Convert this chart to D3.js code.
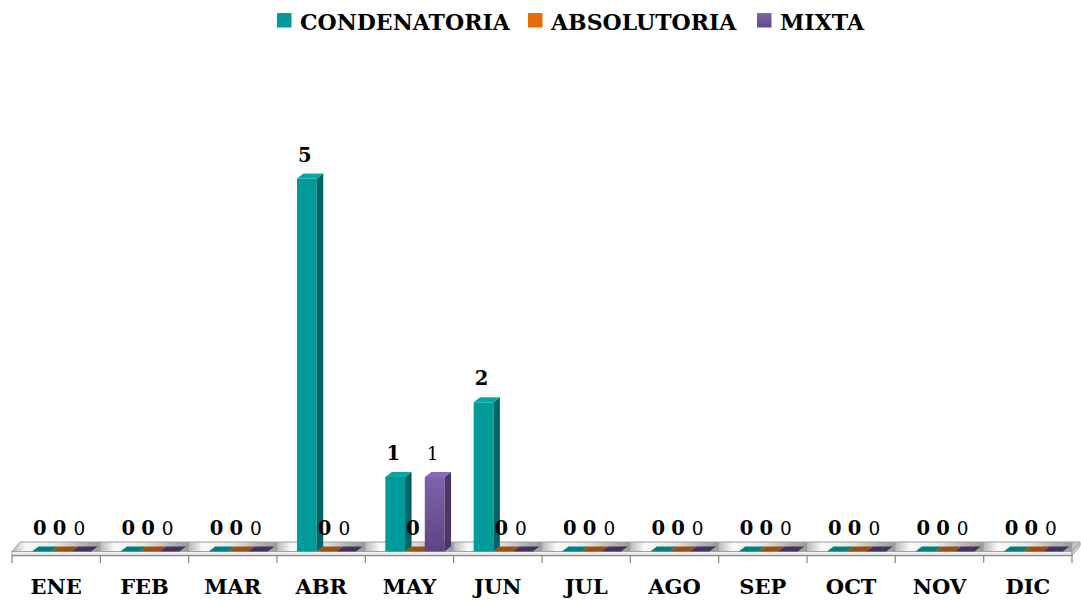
<!DOCTYPE html>
<html><head><meta charset="utf-8">
<script src="https://cdn.jsdelivr.net/npm/d3@7"></script>
<style>
html,body{margin:0;padding:0;background:#fff;}
svg{display:block;}
</style></head>
<body>
<script>
const months = ["ENE","FEB","MAR","ABR","MAY","JUN","JUL","AGO","SEP","OCT","NOV","DIC"];
const seriesNames = ["CONDENATORIA","ABSOLUTORIA","MIXTA"];
const condenatoria = [0,0,0,5,1,2,0,0,0,0,0,0];
const absolutoria  = [0,0,0,0,0,0,0,0,0,0,0,0];
const mixta        = [0,0,0,0,1,0,0,0,0,0,0,0];
const seriesValues = [condenatoria, absolutoria, mixta];

const W = 1081, H = 601;
const FONT = "'DejaVu Serif', 'Liberation Serif', serif";
const colors = [
  {front:"#009a9a", side:"#006464", top:"#00a8a8", flat:"#00807e"},
  {front:"#e46c0a", side:"#a04a05", top:"#f07a1a", flat:"#9a5010"},
  {front:"#7c5ca6", side:"#4b3768", top:"#8a6bb4", flat:"#45325f"}
];

const svg = d3.select("body").append("svg").attr("width", W).attr("height", H);
const defs = svg.append("defs");

const pg = defs.append("linearGradient").attr("id","purpleGrad").attr("x1",0).attr("y1",0).attr("x2",0).attr("y2",1);
pg.append("stop").attr("offset","0").attr("stop-color","#8062aa");
pg.append("stop").attr("offset","1").attr("stop-color","#5e4584");
const lg = defs.append("linearGradient").attr("id","legPurple").attr("x1",0).attr("y1",0).attr("x2",0).attr("y2",1);
lg.append("stop").attr("offset","0").attr("stop-color","#8064a8");
lg.append("stop").attr("offset","1").attr("stop-color","#64488c");

const x0 = d3.scaleBand().domain(months).range([12, 1072]).paddingInner(0).paddingOuter(0);
const bw = x0.bandwidth();
const x1 = d3.scaleBand().domain(seriesNames).range([bw*0.2265, bw*0.2265 + bw*0.67]).padding(0);
const y = d3.scaleLinear().domain([0, 7]).range([551.5, 551.5 - 7*74.6]);

const dx = 6.5, dy = 5;
const fdx = 8, fdy = 9.5;
const y0 = y(0);

const pat = defs.append("pattern").attr("id","floorPat").attr("patternUnits","userSpaceOnUse")
  .attr("x", x0(months[0])).attr("y", 0).attr("width", bw).attr("height", H);
const fg = defs.append("linearGradient").attr("id","floorGrad").attr("x1",0).attr("y1",0).attr("x2",1).attr("y2",0);
[[0,"#b8b8b8"],[0.16,"#fafafa"],[0.5,"#e6e6e6"],[0.8,"#b4b4b4"],[1,"#9a9a9a"]].forEach(([o,c])=>fg.append("stop").attr("offset",o).attr("stop-color",c));
pat.append("rect").attr("x",0).attr("y",0).attr("width",bw).attr("height",H).attr("fill","url(#floorGrad)");

const fL = x0.range()[0], fR = x0.range()[1];
svg.append("path")
  .attr("d", `M${fL},${y0} L${fL+fdx},${y0-fdy} L${fR+fdx},${y0-fdy} L${fR},${y0} Z`)
  .attr("fill","url(#floorPat)").attr("stroke","#a0a0a0").attr("stroke-width",1);
svg.append("rect").attr("x",fL).attr("y",y0).attr("width",fR-fL).attr("height",4)
  .attr("fill","#f0f0f0").attr("stroke","#a0a0a0").attr("stroke-width",1);
svg.append("path")
  .attr("d", `M${fR},${y0} L${fR+fdx},${y0-fdy} L${fR+fdx},${y0-fdy+4} L${fR},${y0+4} Z`)
  .attr("fill","#d0d0d0").attr("stroke","#a0a0a0").attr("stroke-width",1);

const tickXs = months.map(m => x0(m)).concat([fR]);
svg.append("g").selectAll("line").data(tickXs).join("line")
  .attr("x1", d=>d).attr("x2", d=>d).attr("y1", y0+4).attr("y2", y0+11.5)
  .attr("stroke","#8c8c8c").attr("stroke-width",1.3);
svg.append("line").attr("x1",fL).attr("x2",fR).attr("y1",y0+4).attr("y2",y0+4)
  .attr("stroke","#8c8c8c").attr("stroke-width",1.3);

const data = [];
months.forEach((m,i)=>seriesNames.forEach((s,j)=>data.push({m, s, j, v: seriesValues[j][i]})));
const bar = svg.append("g").selectAll("g").data(data).join("g");
bar.each(function(d){
  const g = d3.select(this);
  const bx = x0(d.m) + x1(d.s), w = x1.bandwidth();
  const yt = y(d.v);
  const c = colors[d.j];
  if (d.v === 0) {
    g.append("path").attr("d", `M${bx},${y0} L${bx+dx},${y0-dy} L${bx+w+dx},${y0-dy} L${bx+w},${y0} Z`)
      .attr("fill", c.flat);
    return;
  }
  g.append("rect").attr("x",bx).attr("y",yt).attr("width",w).attr("height",y0-yt)
    .attr("fill", d.j===2 ? "url(#purpleGrad)" : c.front);
  g.append("path").attr("d", `M${bx+w},${yt} L${bx+w+dx},${yt-dy} L${bx+w+dx},${y0-dy} L${bx+w},${y0} Z`)
    .attr("fill", c.side);
  g.append("path").attr("d", `M${bx},${yt} L${bx+dx},${yt-dy} L${bx+w+dx},${yt-dy} L${bx+w},${yt} Z`)
    .attr("fill", c.top);
});

svg.append("g").selectAll("text").data(data).join("text")
  .attr("x", d => x0(d.m) + x1(d.s) + x1.bandwidth()/2 - 2)
  .attr("y", d => y(d.v) - 17)
  .attr("text-anchor","middle")
  .attr("font-family", FONT)
  .attr("font-size", d => d.j===2 ? 18.5 : 19.5)
  .attr("font-weight", d => d.j===2 ? "normal" : "bold")
  .attr("fill","#000")
  .text(d => d.v);

svg.append("g").selectAll("text").data(months).join("text")
  .attr("x", d => x0(d) + bw/2)
  .attr("y", 594)
  .attr("text-anchor","middle")
  .attr("font-family", FONT)
  .attr("font-size", 21)
  .attr("font-weight","bold")
  .attr("fill","#000")
  .text(d=>d);

const legX = [277, 528, 757];
const leg = svg.append("g").selectAll("g").data(seriesNames).join("g")
  .attr("transform",(d,i)=>`translate(${legX[i]},13)`);
leg.append("rect").attr("width",14.5).attr("height",14.5)
  .attr("fill",(d,i)=> i===2 ? "url(#legPurple)" : colors[i].front);
leg.append("text").attr("x",23).attr("y",16.5)
  .attr("font-family", FONT).attr("font-size",22).attr("font-weight","bold").attr("fill","#000")
  .text(d=>d);
</script>
</body></html>
